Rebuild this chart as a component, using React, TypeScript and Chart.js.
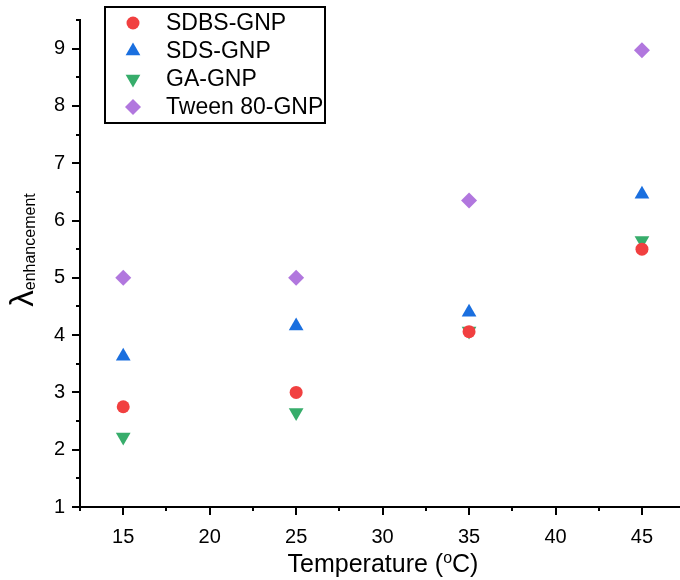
import React, { useEffect, useRef } from 'react';
import { Chart, registerables } from 'chart.js';
import { drawPoint } from 'chart.js/helpers';

Chart.register(...registerables);

const temperatures = [15, 25, 35, 45];
const sdbsGnp = [2.75, 3.0, 4.06, 5.5];
const sdsGnp = [3.63, 4.16, 4.4, 6.46];
const gaGnp = [2.22, 2.65, 4.07, 5.65];
const tween80Gnp = [5.0, 5.0, 6.35, 8.97];
const seriesNames = ['SDBS-GNP', 'SDS-GNP', 'GA-GNP', 'Tween 80-GNP'];
const xTickLabels = [15, 20, 25, 30, 35, 40, 45];
const yTickLabels = [1, 2, 3, 4, 5, 6, 7, 8, 9];
const xTitleParts = ['Temperature (', 'o', 'C)'];
const yTitleParts = ['λ', 'enhancement'];

const FONT = '"Liberation Sans", Arial, sans-serif';

const seriesStyles = [
  { color: '#F14040', pointStyle: 'circle', radius: 6.5, rotation: 0 },
  { color: '#1A6FDF', pointStyle: 'triangle', radius: 8.5, rotation: 0 },
  { color: '#37AD6B', pointStyle: 'triangle', radius: 8.5, rotation: 180 },
  { color: '#B177DE', pointStyle: 'rectRot', radius: 8, rotation: 0 },
];

const tickMarksPlugin = {
  id: 'tickMarks',
  afterDraw(chart: any) {
    const ctx = chart.ctx;
    const { x, y } = chart.scales;
    const area = chart.chartArea;
    ctx.save();
    ctx.strokeStyle = '#000';
    ctx.lineWidth = 2;
    ctx.beginPath();
    for (const t of y.ticks) {
      const v = t.value;
      if (Math.abs(v * 2 - Math.round(v * 2)) > 1e-6) continue;
      const len = Number.isInteger(v) ? 8 : 4;
      const py = Math.round(y.getPixelForValue(v));
      ctx.moveTo(area.left, py);
      ctx.lineTo(area.left - len, py);
    }
    for (const t of x.ticks) {
      const v = t.value;
      if (Math.abs(v / 2.5 - Math.round(v / 2.5)) > 1e-6) continue;
      const len = Math.abs(v / 5 - Math.round(v / 5)) < 1e-6 ? 8 : 4;
      const px = Math.round(x.getPixelForValue(v));
      ctx.moveTo(px, area.bottom);
      ctx.lineTo(px, area.bottom + len);
    }
    ctx.stroke();
    ctx.restore();
  },
};

const titlesPlugin = {
  id: 'axisTitles',
  afterDraw(chart: any) {
    const ctx = chart.ctx;
    ctx.save();
    ctx.fillStyle = '#000';
    ctx.textBaseline = 'alphabetic';
    ctx.textAlign = 'left';
    // x title
    const mainFont = `25px ${FONT}`;
    const supFont = `16px ${FONT}`;
    ctx.font = mainFont;
    const w1 = ctx.measureText(xTitleParts[0]).width;
    const w3 = ctx.measureText(xTitleParts[2]).width;
    ctx.font = supFont;
    const w2 = ctx.measureText(xTitleParts[1]).width;
    const total = w1 + w2 + w3;
    let sx = 383 - total / 2;
    const by = 572;
    ctx.font = mainFont;
    ctx.fillText(xTitleParts[0], sx, by);
    sx += w1;
    ctx.font = supFont;
    ctx.fillText(xTitleParts[1], sx, by - 9);
    sx += w2;
    ctx.font = mainFont;
    ctx.fillText(xTitleParts[2], sx, by);

    // y title
    ctx.translate(33, 250);
    ctx.rotate(-Math.PI / 2);
    const lamFont = `33px ${FONT}`;
    const subFont = `16px ${FONT}`;
    ctx.font = lamFont;
    const lw = ctx.measureText(yTitleParts[0]).width;
    ctx.font = subFont;
    const ew = ctx.measureText(yTitleParts[1]).width;
    let u = -(lw + ew) / 2;
    ctx.font = lamFont;
    ctx.fillText(yTitleParts[0], u, 0);
    u += lw;
    ctx.font = subFont;
    ctx.fillText(yTitleParts[1], u, 2);
    ctx.restore();
  },
};

const legendPlugin = {
  id: 'boxLegend',
  afterDraw(chart: any) {
    const ctx = chart.ctx;
    ctx.save();
    ctx.strokeStyle = '#000';
    ctx.lineWidth = 2;
    ctx.strokeRect(105, 7, 220, 116);
    const rowY = [23, 51, 79, 107];
    chart.data.datasets.forEach((ds: any, i: number) => {
      const st = seriesStyles[i];
      ctx.fillStyle = st.color;
      ctx.strokeStyle = st.color;
      drawPoint(ctx, { pointStyle: st.pointStyle, rotation: st.rotation, radius: st.radius, borderWidth: 0 }, 133, rowY[i]);
      ctx.fillStyle = '#000';
      ctx.font = `23px ${FONT}`;
      ctx.textBaseline = 'middle';
      ctx.textAlign = 'left';
      ctx.fillText(ds.label, 166, rowY[i] + 1);
    });
    ctx.restore();
  },
};

export default function App() {
  const ref = useRef<HTMLCanvasElement | null>(null);
  useEffect(() => {
    document.body.style.margin = '0';
    const canvas = ref.current;
    if (!canvas) return;
    const seriesValues = [sdbsGnp, sdsGnp, gaGnp, tween80Gnp];
    const chart = new Chart(canvas, {
      type: 'scatter',
      data: {
        datasets: seriesValues.map((vals, i) => ({
          label: seriesNames[i],
          data: temperatures.map((t, j) => ({ x: t, y: vals[j] })),
          backgroundColor: seriesStyles[i].color,
          borderColor: seriesStyles[i].color,
          pointStyle: seriesStyles[i].pointStyle as any,
          pointRadius: seriesStyles[i].radius,
          pointRotation: seriesStyles[i].rotation,
          pointBorderWidth: 0,
        })),
      },
      options: {
        animation: false,
        responsive: false,
        devicePixelRatio: 1,
        layout: { autoPadding: false, padding: { top: 20, right: 0, bottom: 0, left: 0 } },
        plugins: { legend: { display: false }, tooltip: { enabled: false } },
        scales: {
          x: {
            type: 'linear',
            min: 12.5,
            max: 47.2,
            afterFit: (s: any) => {
              s.height = 73;
              s.paddingLeft = 0;
              s.paddingRight = 0;
            },
            grid: { display: false, drawTicks: false, tickLength: 0 },
            border: { display: true, color: '#000', width: 2 },
            ticks: {
              stepSize: 2.5,
              includeBounds: false,
              autoSkip: false,
              maxRotation: 0,
              padding: 18,
              color: '#000',
              font: { family: FONT, size: 20 },
              callback: (v: any) => (xTickLabels.includes(Number(v)) ? String(v) : ''),
            },
          },
          y: {
            type: 'linear',
            min: 1,
            max: 9.5,
            afterFit: (s: any) => {
              s.width = 80;
              s.paddingTop = 0;
              s.paddingBottom = 0;
            },
            grid: { display: false, drawTicks: false, tickLength: 0 },
            border: { display: true, color: '#000', width: 2 },
            ticks: {
              stepSize: 0.5,
              autoSkip: false,
              padding: 15,
              color: '#000',
              font: { family: FONT, size: 20 },
              callback: (v: any) => (yTickLabels.includes(Number(v)) ? String(v) : ''),
            },
          },
        },
      },
      plugins: [tickMarksPlugin, titlesPlugin, legendPlugin],
    });
    return () => chart.destroy();
  }, []);
  return (
    <div style={{ width: 680, height: 580, background: '#fff' }}>
      <canvas ref={ref} width={680} height={580} style={{ display: 'block' }} />
    </div>
  );
}
